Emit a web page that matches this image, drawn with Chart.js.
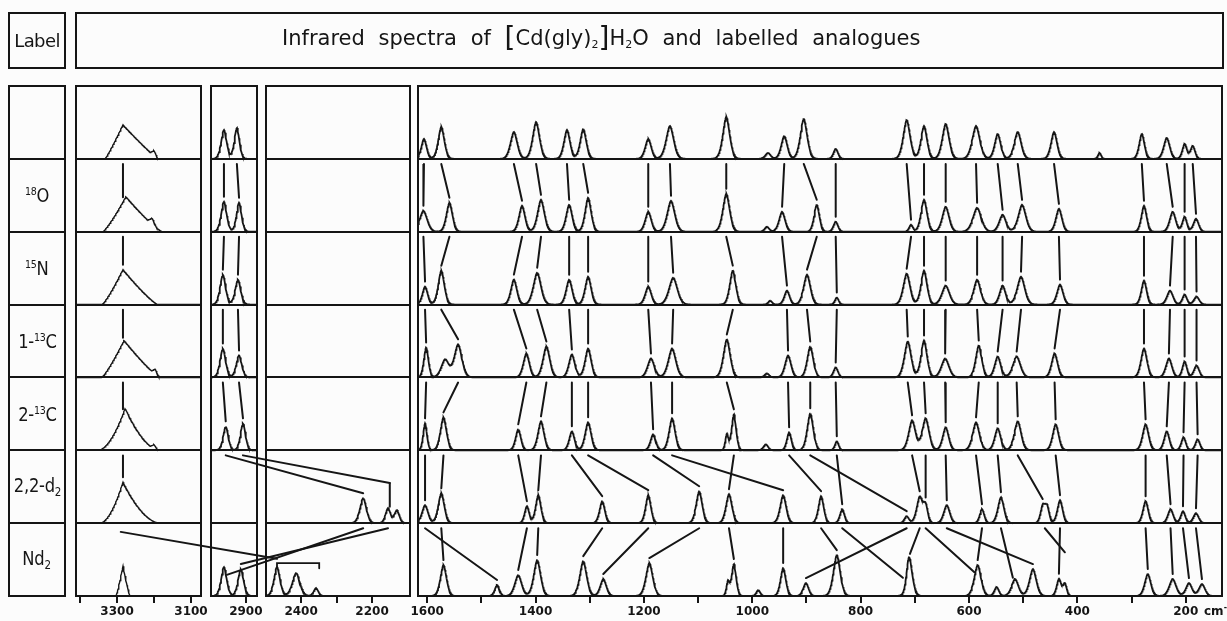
<!DOCTYPE html>
<html>
<head>
<meta charset="utf-8">
<title>Infrared spectra of [Cd(gly)2]H2O and labelled analogues</title>
<script src="https://cdn.jsdelivr.net/npm/chart.js@4.4.1/dist/chart.umd.min.js"></script>
<style>
    html, body { margin: 0; padding: 0; background: #fcfcfc; }
    body { width: 1227px; height: 621px; position: relative; overflow: hidden;
           font-family: 'DejaVu Sans', sans-serif; color: #151515; }
    #chart { position: absolute; left: 0; top: 0; }
    .box { position: absolute; border: 2px solid #151515; box-sizing: border-box; }
    #labelHead { left: 8px; top: 12px; width: 58px; height: 57px; font-size: 18px;
                 display: flex; align-items: center; justify-content: center; letter-spacing: -0.6px; }
    #titleBox { left: 75px; top: 12px; width: 1149px; height: 57px; }
    #titleText { position: absolute; left: 205px; top: 12px; font-size: 21px; word-spacing: 7px; white-space: nowrap; }
    #titleText .br { font-size: 28px; line-height: 20px; vertical-align: -2px; }
    #titleText sub { font-size: 11px; vertical-align: -3px; }
    .rowLabel { position: absolute; left: 8px; width: 58px; display: flex; align-items: center;
                justify-content: center; white-space: nowrap; }
    .rowLabel span { display: inline-block; font-size: 19px; transform: scaleX(0.86); letter-spacing: -0.3px; }
    .rowLabel sup { font-size: 11px; vertical-align: 7px; }
    .rowLabel sub { font-size: 12px; vertical-align: -4px; }
    #unit { position: absolute; left: 1204px; top: 603px; font: bold 12px 'DejaVu Sans', sans-serif; white-space: nowrap; }
    #unit sup { font-size: 8px; }
</style>
</head>
<body>
<canvas id="chart" width="1227" height="621"></canvas>
<div class="box" id="labelHead">Label</div>
<div class="box" id="titleBox"><span id="titleText">Infrared spectra of <span class="br">[</span>Cd(gly)<sub>2</sub><span class="br">]</span>H<sub>2</sub>O and labelled analogues</span></div>
<span id="unit">cm<sup>-1</sup></span>

<script>
// row labels, top to bottom
const rowLabels = ['', '<sup>18</sup>O', '<sup>15</sup>N', '1-<sup>13</sup>C', '2-<sup>13</sup>C', '2,2-d<sub>2</sub>', 'Nd<sub>2</sub>'];

// axis ticks (cm-1) and their labels
const tickWn = [3400, 3300, 3200, 3100, 2900, 2400, 2300, 2200,
                1600, 1500, 1400, 1300, 1200, 1100, 1000, 900, 800, 700, 600, 500, 400, 300, 200];
const tickText = ['', '3300', '', '3100', '2900', '2400', '', '2200',
                  '1600', '', '1400', '', '1200', '', '1000', '', '800', '', '600', '', '400', '', '200'];

// N-H stretch envelopes: [cm-1, intensity, width to high side, width to low side, sharpness]
const band3300 = [
    [[3284, 34, 48, 95, 1.1], [3200, 5, 10, 10, 1]],
    [[3276, 35, 62, 98, 1.2], [3205, 6, 12, 12, 1]],
    [[3284, 35, 56, 94, 1.2]],
    [[3281, 37, 60, 97, 1.2], [3197, 5, 10, 10, 1]],
    [[3278, 42, 73, 94, 1.8], [3200, 4, 10, 10, 1]],
    [[3284, 41, 62, 100, 1.8]],
    [[3284, 30, 19, 19, 1.2]]
];
// other bands per row: [cm-1, intensity, half width]
const band2900 = [
    [[2961, 29, 11], [2925, 31, 10]],
    [[2961, 30, 11], [2919, 29, 10]],
    [[2964, 30, 11], [2922, 25, 11]],
    [[2964, 29, 11], [2919, 22, 11]],
    [[2956, 24, 10], [2908, 27, 10]],
    [],
    [[2961, 29, 11], [2914, 27, 11]]
];
const band2300 = [
    [], [], [], [], [],
    [[2225, 25, 13], [2155, 15, 10], [2130, 13, 10]],
    [[2468, 29, 12], [2414, 23, 15], [2358, 8, 9]]
];
const band1600 = [
    [[1606, 20, 7], [1574, 32, 8], [1440, 27, 9], [1399, 37, 9], [1342, 29, 8], [1312, 30, 8], [1192, 20, 8],
     [1152, 33, 10], [1048, 42, 9], [971, 6, 7], [941, 23, 8], [905, 40, 9], [846, 10, 6], [715, 39, 9],
     [683, 33, 8], [643, 35, 9], [587, 33, 10], [547, 25, 8], [510, 27, 9], [443, 27, 8], [359, 6, 4],
     [281, 25, 7], [235, 21, 8], [202, 15, 6], [187, 13, 6]],
    [[1607, 21, 10], [1559, 29, 8], [1425, 26, 8], [1390, 32, 9], [1338, 27, 8], [1303, 34, 8], [1192, 20, 8],
     [1150, 31, 10], [1048, 38, 9], [973, 5, 6], [945, 20, 8], [881, 27, 7], [846, 10, 6], [707, 7, 5],
     [683, 32, 8], [643, 25, 9], [585, 24, 11], [538, 17, 9], [502, 27, 10], [434, 23, 8],
     [277, 26, 7], [224, 20, 8], [202, 15, 6], [181, 13, 7]],
    [[1604, 18, 7], [1574, 34, 8], [1440, 25, 8], [1397, 32, 10], [1338, 25, 8], [1303, 28, 8], [1192, 18, 8],
     [1146, 27, 11], [1036, 34, 8], [967, 4, 5], [936, 14, 7], [899, 30, 9], [844, 7, 5], [715, 31, 9],
     [683, 34, 8], [643, 19, 10], [585, 25, 9], [538, 19, 8], [504, 28, 10], [432, 20, 8],
     [277, 24, 7], [229, 14, 8], [202, 10, 6], [180, 8, 7]],
    [[1602, 30, 6], [1567, 18, 10], [1543, 33, 10], [1417, 24, 8], [1380, 31, 9], [1333, 23, 8], [1303, 29, 8],
     [1187, 19, 9], [1148, 29, 10], [1047, 38, 9], [973, 4, 6], [934, 22, 8], [893, 31, 8], [846, 10, 6],
     [713, 36, 9], [683, 37, 8], [644, 19, 10], [582, 32, 8], [547, 21, 8], [512, 21, 10], [442, 24, 8],
     [277, 29, 8], [231, 19, 8], [202, 16, 6], [180, 12, 7]],
    [[1604, 27, 5], [1570, 33, 8], [1432, 21, 7], [1390, 29, 8], [1333, 19, 7], [1303, 28, 8], [1183, 16, 7],
     [1148, 32, 8], [1047, 16, 4], [1034, 36, 6], [975, 6, 6], [932, 18, 6], [893, 37, 8], [844, 9, 5],
     [705, 30, 9], [680, 32, 9], [643, 23, 8], [587, 28, 9], [547, 22, 8], [510, 29, 9], [440, 26, 8],
     [274, 26, 8], [235, 19, 7], [204, 13, 6], [178, 11, 6]],
    [[1604, 18, 8], [1574, 30, 8], [1416, 17, 6], [1395, 28, 7], [1277, 22, 7], [1192, 28, 7], [1098, 32, 8],
     [1043, 29, 8], [943, 28, 8], [873, 27, 7], [834, 14, 6], [715, 7, 6], [691, 26, 8], [680, 16, 6],
     [641, 18, 8], [576, 14, 6], [541, 26, 8], [464, 16, 6], [456, 16, 6], [432, 23, 7],
     [274, 22, 7], [228, 14, 7], [205, 12, 6], [181, 10, 7]],
    [[1570, 31, 8], [1471, 11, 6], [1432, 21, 9], [1397, 36, 9], [1312, 35, 9], [1275, 17, 8], [1190, 33, 9],
     [1045, 14, 4], [1034, 32, 6], [989, 6, 5], [943, 28, 7], [901, 13, 7], [844, 41, 9], [712, 14, 5],
     [709, 28, 8], [584, 31, 9], [549, 9, 6], [515, 17, 9], [482, 27, 9], [434, 17, 6], [423, 12, 5],
     [270, 22, 8], [224, 17, 9], [194, 13, 8], [170, 12, 8]]
];

// correlation lines drawn inside each row: [from cm-1 (row above), to cm-1 (this row), start, end]
const links = [
    [],
    [[3284, 3284], [2961, 2961], [2925, 2919],
     [1606, 1607], [1574, 1559], [1440, 1425], [1399, 1390], [1342, 1338], [1312, 1303], [1192, 1192],
     [1152, 1150], [1048, 1048], [941, 945], [905, 881], [846, 846], [715, 707], [683, 683], [643, 643],
     [587, 585], [547, 538], [510, 502], [443, 434], [281, 277], [235, 224], [202, 202], [187, 181]],
    [[3284, 3284], [2961, 2964], [2919, 2922],
     [1607, 1604], [1559, 1574], [1425, 1440], [1390, 1397], [1338, 1338], [1303, 1303], [1192, 1192],
     [1150, 1146], [1048, 1036], [945, 936], [881, 899], [846, 844], [707, 715], [683, 683], [643, 643],
     [585, 585], [538, 538], [502, 504], [434, 432], [277, 277], [224, 229], [202, 202], [181, 180]],
    [[3284, 3284], [2964, 2964], [2922, 2919],
     [1604, 1602], [1574, 1543], [1440, 1417], [1397, 1380], [1338, 1333], [1303, 1303], [1192, 1187],
     [1146, 1148], [1036, 1047], [936, 934], [899, 893], [844, 846], [715, 713], [683, 683], [643, 644],
     [585, 582], [538, 547], [504, 512], [432, 442], [277, 277], [229, 231], [202, 202], [180, 180]],
    [[3284, 3284], [2964, 2956], [2919, 2908],
     [1602, 1604], [1543, 1570], [1417, 1432], [1380, 1390], [1333, 1333], [1303, 1303], [1187, 1183],
     [1148, 1148], [1047, 1034], [934, 932], [893, 893], [846, 844], [713, 705], [683, 680], [644, 643],
     [582, 587], [547, 547], [512, 510], [442, 440], [277, 274], [231, 235], [202, 204], [180, 178]],
    [[3284, 3284], [2956, 2225], [2908, 2150, 0.93, 0.55], [2150, 2150, 0.55],
     [1604, 1604], [1570, 1574], [1432, 1416], [1390, 1395], [1333, 1277], [1303, 1192], [1183, 1098],
     [1148, 943], [1034, 1043], [932, 873], [893, 715], [844, 834], [705, 691], [680, 680], [643, 641],
     [587, 576], [547, 541], [510, 464], [440, 432], [274, 274], [235, 228], [204, 205], [178, 181]],
    [[3290, 2468, 0.88, 0.51], [2225, 2953], [2155, 2914],
     [1604, 1471], [1574, 1570], [1416, 1432], [1395, 1397], [1277, 1312], [1192, 1275], [1098, 1190],
     [1043, 1034], [943, 943], [873, 844], [715, 901], [834, 722, 0.93, 0.25], [691, 709], [680, 590],
     [576, 584], [641, 482], [541, 519], [460, 423, 0.93, 0.6], [432, 434],
     [274, 270], [228, 224], [205, 194], [181, 170]]
];

// bracket over the N-D stretching bands of Nd2
const bracketNd2 = [2468, 2349];

// ---- layout of the four broken-axis panels ----
const ink = '#151515';
const rowPx = 73;
const panels = [
    { hi: 3411, lo: 3073, left: 76,  right: 201 },
    { hi: 2997, lo: 2869, left: 211, right: 257 },
    { hi: 2499, lo: 2093, left: 266, right: 410 },
    { hi: 1617, lo: 133,  left: 418, right: 1222 }
];
const bands = [band3300, band2900, band2300, band1600];

function panelOf(wn) {
    return panels.findIndex(p => wn <= p.hi && wn >= p.lo);
}

function toX(wn) {
    const p = panels[panelOf(wn)];
    return p.left + (p.hi - wn) / (p.hi - p.lo) * (p.right - p.left);
}

function peakValue(pi, pk, wn) {
    if (pi === 0) {
        // broad asymmetric envelope
        const [c, h, wHigh, wLow, sharp] = pk;
        const t = 1 - Math.abs(wn - c) / (wn > c ? wHigh : wLow);
        return t > 0 ? h * Math.pow(t, sharp) : 0;
    }
    const [c, h, w] = pk;
    return h * Math.exp(-Math.pow(Math.abs(wn - c) / w, 1.7));
}

function rowCurve(r, wn) {
    const pi = panelOf(wn);
    if (pi < 0) return 0;
    return bands[pi][r].reduce((s, pk) => s + peakValue(pi, pk, wn), 0);
}

const datasets = [];

// spectra
bands.forEach((band, pi) => {
    const p = panels[pi];
    band.forEach((peaks, r) => {
        if (!peaks.length) return;
        const n = (p.right - p.left) * 2;
        const pts = [];
        for (let i = 0; i <= n; i++) {
            const wn = p.hi - (p.hi - p.lo) * i / n;
            pts.push({ x: toX(wn), y: 6 - r + rowCurve(r, wn) / rowPx });
        }
        datasets.push({ data: pts, borderColor: ink, borderWidth: pi === 0 ? 1.4 : 1.8 });
    });
});

// correlation lines
links.forEach((rowLinks, r) => {
    rowLinks.forEach(([a, b, ya, yb]) => {
        const top = ya ?? 0.93;
        const bot = yb ?? Math.min(0.9, (rowCurve(r, b) + 5) / rowPx);
        datasets.push({
            data: [{ x: toX(a), y: 6 - r + top }, { x: toX(b), y: 6 - r + bot }],
            borderColor: ink, borderWidth: 2
        });
    });
});

// bracket
datasets.push({
    data: [{ x: toX(bracketNd2[0]), y: 0.38 }, { x: toX(bracketNd2[0]), y: 0.45 },
           { x: toX(bracketNd2[1]), y: 0.45 }, { x: toX(bracketNd2[1]), y: 0.38 }],
    borderColor: ink, borderWidth: 1.8
});

// panel frames, row rules and the label column
const framePlugin = {
    id: 'frames',
    beforeDatasetsDraw(chart) {
        const { ctx, scales: { x, y } } = chart;
        ctx.save();
        ctx.strokeStyle = ink;
        ctx.lineWidth = 2;
        const boxes = panels.map(p => [x.getPixelForValue(p.left), x.getPixelForValue(p.right)]);
        boxes.push([9, 65]);
        boxes.forEach(([l, r]) => {
            ctx.beginPath();
            for (let i = 0; i <= 7; i++) {
                const py = Math.round(y.getPixelForValue(i));
                ctx.moveTo(l - 1, py);
                ctx.lineTo(r + 1, py);
            }
            const t = y.getPixelForValue(7), b = y.getPixelForValue(0);
            ctx.moveTo(l, t); ctx.lineTo(l, b);
            ctx.moveTo(r, t); ctx.lineTo(r, b);
            ctx.stroke();
        });
        ctx.restore();
    }
};

const chart = new Chart(document.getElementById('chart'), {
    type: 'line',
    data: { datasets },
    plugins: [framePlugin],
    options: {
        responsive: false,
        animation: false,
        devicePixelRatio: 1,
        events: [],
        layout: { padding: { left: 76, right: 5, top: 86, bottom: 0 } },
        elements: { point: { radius: 0 }, line: { tension: 0, borderCapStyle: 'round' } },
        plugins: { legend: { display: false }, tooltip: { enabled: false } },
        scales: {
            x: {
                type: 'linear', min: 76, max: 1222,
                afterBuildTicks: s => { s.ticks = tickWn.map(v => ({ value: toX(v) })); },
                afterFit: s => { s.height = 25; },
                border: { display: false },
                grid: { drawOnChartArea: false, drawTicks: true, tickLength: 7, color: ink, lineWidth: 2 },
                ticks: {
                    autoSkip: false, maxRotation: 0, minRotation: 0, padding: 2, color: ink,
                    font: { family: 'DejaVu Sans', weight: 'bold', size: 12 },
                    callback: (v, i) => tickText[i]
                }
            },
            y: { type: 'linear', min: 0, max: 7, display: false }
        }
    }
});

// sample labels, placed on the chart's own rows
rowLabels.forEach((txt, r) => {
    const top = chart.scales.y.getPixelForValue(7 - r);
    const bottom = chart.scales.y.getPixelForValue(6 - r);
    const el = document.createElement('div');
    el.className = 'rowLabel';
    el.style.top = top + 'px';
    el.style.height = (bottom - top) + 'px';
    el.innerHTML = '<span>' + txt + '</span>';
    document.body.appendChild(el);
});
</script>
</body>
</html>
